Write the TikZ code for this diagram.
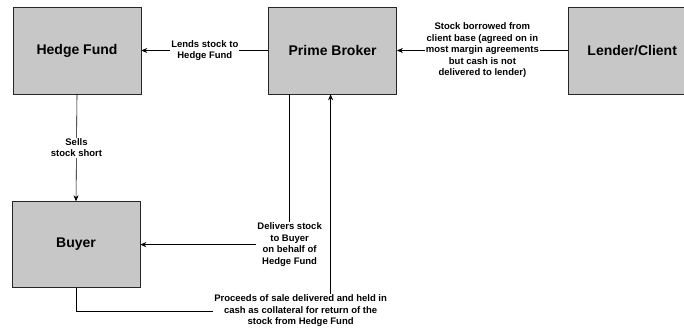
\documentclass[tikz,border=0pt]{standalone}
\usepackage{fontspec}
\setmainfont{Liberation Sans}
\usepackage{tikz}
\usetikzlibrary{arrows.meta, positioning}

\begin{document}
\begin{tikzpicture}[
        party/.style={rectangle, draw=black!85, semithick, fill=black!22, minimum width=128pt, minimum height=87pt, font=\fontsize{14}{16}\selectfont\bfseries},
        flowlabel/.style={fill=white, align=center, inner sep=1pt, font=\fontsize{9.5}{11.5}\selectfont\bfseries},
        arrow/.style={-{Stealth[length=6pt, width=5pt]}, semithick}
    ]
    \useasboundingbox (0,0) rectangle (684pt,-328pt);
    
    \node (hedge_node) [party] at (77pt,-50.5pt) {Hedge Fund};
    
    \node (broker_node) [party, right=127pt of hedge_node] {Prime Broker};
    
    \node (lender_node) [party, right=171pt of broker_node] {Lender/Client};
    
    \node (buyer_node) [party, below=107pt of hedge_node, xshift=-1pt, minimum height=86pt] {Buyer};
    
    \draw [arrow] (broker_node.west) -- node[flowlabel] {Lends stock to\\Hedge Fund} (hedge_node.east);
    \draw [arrow] (lender_node.west) -- node[flowlabel] {Stock borrowed from\\client base (agreed on in\\most margin agreements\\but cash is not\\delivered to lender)} (broker_node.east);
    \draw [arrow] (hedge_node.south) -- node[flowlabel] {Sells\\stock short} (buyer_node.north);
    \draw [arrow] ([xshift=-43pt]broker_node.south) |- node[flowlabel] {Delivers stock\\to Buyer\\on behalf of\\Hedge Fund} (buyer_node.east);
    \draw [arrow] (buyer_node.south) -- ++(0,-23pt) -| node[flowlabel, xshift=-30pt] {Proceeds of sale delivered and held in\\cash as collateral for return of the\\stock from Hedge Fund} ([xshift=-2pt]broker_node.south);
    
    \end{tikzpicture}
\end{document}
